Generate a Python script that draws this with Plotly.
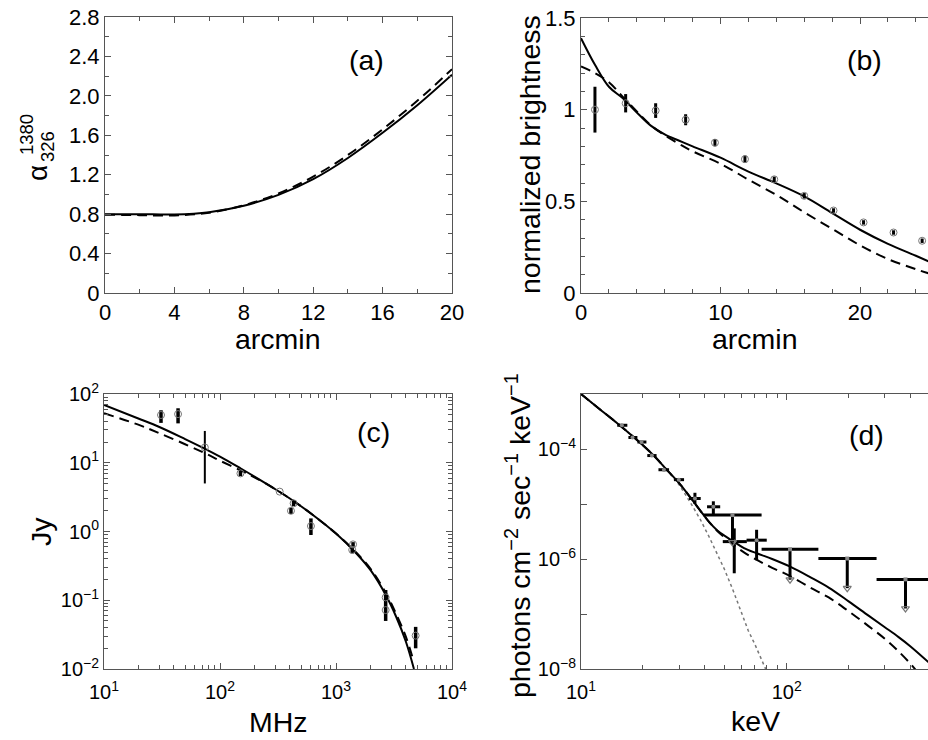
import plotly.graph_objects as go

W, H = 928, 740
FONT = "Liberation Sans, Arial, sans-serif"
AX = "#555555"

# ---------------- Panel (a) ----------------
a_x = [0, 2, 4, 6, 8, 10, 12, 14, 16, 18, 20]
a_solid = [0.80, 0.80, 0.797, 0.82, 0.885, 0.995, 1.155, 1.37, 1.625, 1.905, 2.215]
a_dashed = [0.795, 0.79, 0.787, 0.815, 0.89, 1.01, 1.18, 1.40, 1.66, 1.95, 2.27]

# ---------------- Panel (b) ----------------
b_x = [1.0, 3.2, 5.35, 7.5, 9.6, 11.75, 13.85, 16.0, 18.1, 20.25, 22.4, 24.45]
b_y = [1.0, 1.035, 0.995, 0.945, 0.82, 0.73, 0.62, 0.53, 0.45, 0.385, 0.33, 0.285]
b_err = [0.125, 0.05, 0.04, 0.03, 0.02, 0.02, 0.015, 0.015, 0.012, 0.012, 0.012, 0.012]
b_model_x = [0, 1, 2, 3, 4, 5, 6, 7, 8, 10, 12, 14, 16, 18, 20, 22, 24, 25]
b_solid = [1.39, 1.245, 1.125, 1.062, 0.985, 0.913, 0.865, 0.832, 0.80, 0.738, 0.662, 0.598, 0.527, 0.436, 0.345, 0.268, 0.203, 0.17]
b_dashed = [1.236, 1.20, 1.15, 1.07, 0.99, 0.915, 0.86, 0.815, 0.773, 0.705, 0.618, 0.535, 0.44, 0.35, 0.26, 0.185, 0.13, 0.105]

# ---------------- Panel (c) ----------------
c_freq = [31, 43.5, 74, 150, 327, 409, 431, 608, 1403, 1380, 2680, 2680, 4860]
c_flux = [49.5, 51, 16.7, 7.0, 3.8, 2.0, 2.57, 1.2, 0.65, 0.54, 0.11, 0.072, 0.0306]
c_flux_lo = [38, 37.4, 5.0, 6.4, 3.8, 1.8, 2.35, 0.89, 0.6, 0.48, 0.05, 0.072, 0.020]
c_flux_hi = [58, 62, 29, 7.7, 3.8, 2.2, 2.85, 1.55, 0.7, 0.6, 0.141, 0.072, 0.041]
c_thick = [True, True, False, True, True, True, True, True, True, True, True, True, True]
c_model_f = [10, 20, 30, 50, 74, 100, 150, 200, 300, 400, 600, 1000, 1500, 2000, 2700, 3300, 4000, 4700]
c_solid = [69.2, 43.7, 33.1, 22.1, 16.0, 12.3, 8.32, 6.24, 4.12, 3.02, 1.86, 0.933, 0.479, 0.269, 0.117, 0.0575, 0.0251, 0.0100]
c_dash_f = [10, 20, 30, 50, 74, 100, 150, 200, 300, 400, 600, 1000, 1500, 2000, 2700, 3300, 4000, 4600]
c_dashed = [52.5, 35.5, 26.9, 18.6, 13.8, 10.7, 7.76, 6.10, 4.12, 3.02, 1.86, 0.933, 0.490, 0.282, 0.126, 0.0631, 0.0295, 0.0141]

# ---------------- Panel (d) ----------------
d_E = [15.8, 17.8, 19.7, 22.1, 25.3, 29.9, 35.8, 44.0, 55.6, 71.4]
d_F = [2.7e-4, 1.62e-4, 1.34e-4, 7.6e-5, 4.2e-5, 2.77e-5, 1.26e-5, 8.9e-6, 2.07e-6, 2.2e-6]
d_E_lo = [15.0, 17.0, 18.8, 21.0, 23.8, 28.3, 33.5, 41.0, 48.9, 63.8]
d_E_hi = [16.8, 18.8, 20.8, 23.3, 26.8, 31.7, 38.2, 47.5, 64.0, 80.0]
d_F_lo = [2.6e-4, 1.56e-4, 1.28e-4, 7.2e-5, 3.95e-5, 2.6e-5, 1.0e-5, 6.5e-6, 5.5e-7, 9.5e-7]
d_F_hi = [2.8e-4, 1.68e-4, 1.40e-4, 8.0e-5, 4.45e-5, 2.95e-5, 1.6e-5, 1.12e-5, 3.6e-6, 3.4e-6]
ul_E = [54.5, 103.8, 197.0, 378.0]
ul_F = [6.3e-6, 1.5e-6, 1.02e-6, 4.26e-7]
ul_E_lo = [39.4, 75.5, 142.6, 273.5]
ul_E_hi = [75.5, 142.6, 273.5, 525.0]
ul_tip = [2.0e-6, 4.2e-7, 2.95e-7, 1.26e-7]
d_model_E = [10, 12, 15, 18, 20, 23, 26, 30, 34, 38, 42, 46, 50, 55, 62, 72, 85, 104, 130, 160, 200, 250, 300, 350, 400, 490]
d_solid = [1.0e-3, 5.75e-4, 2.95e-4, 1.66e-4, 1.17e-4, 7.08e-5, 4.27e-5, 2.40e-5, 1.32e-5, 7.59e-6, 4.68e-6,
           3.31e-6, 2.63e-6, 2.09e-6, 1.58e-6, 1.26e-6, 1.00e-6, 7.24e-7, 4.68e-7, 3.02e-7, 1.70e-7, 9.33e-8,
           5.75e-8, 3.80e-8, 2.57e-8, 1.32e-8]
d_dash_E = [10, 12, 15, 18, 20, 23, 26, 30, 34, 38, 42, 46, 50, 55, 62, 72, 85, 104, 130, 160, 200, 250, 300, 350, 410, 430]
d_dashed = [1.0e-3, 5.75e-4, 2.95e-4, 1.66e-4, 1.17e-4, 7.08e-5, 4.27e-5, 2.40e-5, 1.32e-5, 7.59e-6, 4.68e-6,
            3.24e-6, 2.45e-6, 1.82e-6, 1.32e-6, 9.55e-7, 6.92e-7, 4.90e-7, 3.02e-7, 2.00e-7, 1.12e-7, 6.03e-8,
            3.55e-8, 2.09e-8, 1.12e-8, 8.9e-9]
d_dot_E = [10, 12, 15, 18, 20, 23, 26, 30, 34, 38, 42, 46, 50, 55, 60, 65, 70, 75, 79, 82]
d_dotted = [1.0e-3, 5.75e-4, 2.95e-4, 1.66e-4, 1.17e-4, 7.08e-5, 4.27e-5, 2.24e-5, 1.07e-5, 5.25e-6, 2.51e-6,
            1.20e-6, 6.31e-7, 2.63e-7, 1.12e-7, 5.01e-8, 2.82e-8, 1.51e-8, 1.0e-8, 6.3e-9]


def diff(a, b):
    return [x - y for x, y in zip(a, b)]


fig = go.Figure()
SOLID = dict(color="black", width=2)
DASH = dict(color="black", width=2, dash="10px,6px")

# (a)
fig.add_trace(go.Scatter(x=a_x, y=a_dashed, mode="lines", line=dict(DASH, shape="spline"), xaxis="x", yaxis="y"))
fig.add_trace(go.Scatter(x=a_x, y=a_solid, mode="lines", line=dict(SOLID, shape="spline"), xaxis="x", yaxis="y"))

# (b)
fig.add_trace(go.Scatter(x=b_model_x, y=b_dashed, mode="lines", line=dict(DASH, shape="spline"), xaxis="x2", yaxis="y2"))
fig.add_trace(go.Scatter(x=b_model_x, y=b_solid, mode="lines", line=dict(SOLID, shape="spline"), xaxis="x2", yaxis="y2"))
fig.add_trace(go.Scatter(x=b_x, y=b_y, mode="markers",
                         marker=dict(symbol="circle-open", size=7, color="#777", line=dict(width=1)),
                         error_y=dict(type="data", array=b_err, thickness=3, width=0, color="black"),
                         xaxis="x2", yaxis="y2"))

# (c)
fig.add_trace(go.Scatter(x=c_dash_f, y=c_dashed, mode="lines", line=dict(DASH, shape="spline"), xaxis="x3", yaxis="y3"))
fig.add_trace(go.Scatter(x=c_model_f, y=c_solid, mode="lines", line=dict(SOLID, shape="spline"), xaxis="x3", yaxis="y3"))
for thick, wdt in ((True, 3.5), (False, 2)):
    idx = [i for i, t in enumerate(c_thick) if t == thick]
    fig.add_trace(go.Scatter(
        x=[c_freq[i] for i in idx], y=[c_flux[i] for i in idx], mode="markers",
        marker=dict(symbol="circle-open", size=7, color="#777", line=dict(width=1)),
        error_y=dict(type="data", symmetric=False,
                     array=[c_flux_hi[i] - c_flux[i] for i in idx],
                     arrayminus=[c_flux[i] - c_flux_lo[i] for i in idx],
                     thickness=wdt, width=0, color="black"),
        xaxis="x3", yaxis="y3"))

# (d)
fig.add_trace(go.Scatter(x=d_dot_E, y=d_dotted, mode="lines", line=dict(color="#777", width=1.5, dash="dot"), xaxis="x4", yaxis="y4"))
fig.add_trace(go.Scatter(x=d_dash_E, y=d_dashed, mode="lines", line=dict(DASH, shape="spline"), xaxis="x4", yaxis="y4"))
fig.add_trace(go.Scatter(x=d_model_E, y=d_solid, mode="lines", line=dict(SOLID, shape="spline"), xaxis="x4", yaxis="y4"))
fig.add_trace(go.Scatter(
    x=d_E, y=d_F, mode="markers",
    marker=dict(symbol="circle", size=4, color="#888"),
    error_x=dict(type="data", symmetric=False, array=diff(d_E_hi, d_E), arrayminus=diff(d_E, d_E_lo),
                 thickness=3, width=0, color="black"),
    error_y=dict(type="data", symmetric=False, array=diff(d_F_hi, d_F), arrayminus=diff(d_F, d_F_lo),
                 thickness=3, width=0, color="black"),
    xaxis="x4", yaxis="y4"))
fig.add_trace(go.Scatter(
    x=ul_E, y=ul_F, mode="markers",
    marker=dict(symbol="square", size=4, color="#888"),
    error_x=dict(type="data", symmetric=False, array=diff(ul_E_hi, ul_E), arrayminus=diff(ul_E, ul_E_lo),
                 thickness=3, width=0, color="black"),
    error_y=dict(type="data", symmetric=False, array=[0] * len(ul_F), arrayminus=diff(ul_F, ul_tip),
                 thickness=3, width=0, color="black"),
    xaxis="x4", yaxis="y4"))
fig.add_trace(go.Scatter(x=ul_E, y=ul_tip, mode="markers",
                         marker=dict(symbol="triangle-down-open", size=7, color="#777", line=dict(width=1.2)),
                         xaxis="x4", yaxis="y4"))


def px(x):
    return x / W


def py(y):
    return 1 - y / H


def base_axis(**kw):
    d = dict(showline=True, linecolor=AX, linewidth=1, ticks="inside", ticklen=6, tickcolor=AX,
             tickwidth=1, showgrid=False, zeroline=False, automargin=False,
             tickfont=dict(size=22, color="black", family=FONT))
    d.update(kw)
    return d


def minor(**kw):
    d = dict(ticks="inside", ticklen=4, tickcolor=AX, tickwidth=1, showgrid=False)
    d.update(kw)
    return d


log_minor = lambda lo, hi: [k * 10 ** e for e in range(lo, hi) for k in range(2, 10)]
LOGFONT = dict(size=20, color="black", family=FONT)

fig.update_layout(
    width=W, height=H, margin=dict(l=0, r=0, t=0, b=0, autoexpand=False),
    paper_bgcolor="white", plot_bgcolor="white", showlegend=False,
    font=dict(family=FONT, color="black"),
    # (a)
    xaxis=base_axis(domain=[px(105), px(452)], range=[0, 20], anchor="y", mirror="ticks",
                    tickmode="array", tickvals=[0, 4, 8, 12, 16, 20],
                    minor=minor(tickvals=[2, 6, 10, 14, 18])),
    yaxis=base_axis(domain=[py(293), py(17)], range=[0, 2.8], anchor="x", mirror="ticks",
                    tickmode="array", tickvals=[0, 0.4, 0.8, 1.2, 1.6, 2.0, 2.4, 2.8],
                    ticktext=["0", "0.4", "0.8", "1.2", "1.6", "2.0", "2.4", "2.8"],
                    minor=minor(tickvals=[0.2, 0.6, 1.0, 1.4, 1.8, 2.2, 2.6])),
    # (b)
    xaxis2=base_axis(domain=[px(581), 1.0], range=[0, 24.87], anchor="y2", mirror="ticks",
                     tickmode="array", tickvals=[0, 10, 20],
                     minor=minor(tickvals=[2, 4, 6, 8, 12, 14, 16, 18, 22, 24])),
    yaxis2=base_axis(domain=[py(293), py(18)], range=[0, 1.5], anchor="x2", mirror=False,
                     tickmode="array", tickvals=[0, 0.5, 1, 1.5], ticktext=["0", "0.5", "1", "1.5"],
                     minor=minor(tickvals=[0.1, 0.2, 0.3, 0.4, 0.6, 0.7, 0.8, 0.9, 1.1, 1.2, 1.3, 1.4])),
    # (c)
    xaxis3=base_axis(domain=[px(104), px(452)], type="log", range=[1, 4], anchor="y3", mirror="ticks",
                     tickmode="array", tickvals=[10, 100, 1000, 10000],
                     ticktext=["10<sup>1</sup>", "10<sup>2</sup>", "10<sup>3</sup>", "10<sup>4</sup>"],
                     tickfont=LOGFONT, ticklabelstandoff=5, minor=minor(tickvals=log_minor(1, 4))),
    yaxis3=base_axis(domain=[py(669), py(394)], type="log", range=[-2, 2], anchor="x3", mirror="ticks",
                     tickmode="array", tickvals=[0.01, 0.1, 1, 10, 100],
                     ticktext=["10<sup>−2</sup>", "10<sup>−1</sup>", "10<sup>0</sup>", "10<sup>1</sup>", "10<sup>2</sup>"],
                     tickfont=LOGFONT, minor=minor(tickvals=log_minor(-2, 2))),
    # (d)
    xaxis4=base_axis(domain=[px(581), 1.0], type="log", range=[1, 2.687], anchor="y4", mirror="ticks",
                     tickmode="array", tickvals=[10, 100], ticktext=["10<sup>1</sup>", "10<sup>2</sup>"],
                     tickfont=LOGFONT, ticklabelstandoff=5, minor=minor(tickvals=log_minor(1, 3))),
    yaxis4=base_axis(domain=[py(669), py(394)], type="log", range=[-8, -3], anchor="x4", mirror=False,
                     tickmode="array", tickvals=[1e-8, 1e-7, 1e-6, 1e-5, 1e-4, 1e-3],
                     ticktext=["10<sup>−8</sup>", "", "10<sup>−6</sup>", "", "10<sup>−4</sup>", ""],
                     tickfont=LOGFONT),
)


def ann(text, x, y, angle=0, size=28.5):
    fig.add_annotation(text=text, x=px(x), y=py(y), xref="paper", yref="paper",
                       xanchor="center", yanchor="middle", showarrow=False, textangle=angle,
                       font=dict(size=size, color="black", family=FONT))


ann("(a)", 366, 60)
ann("(b)", 864, 60)
ann("(c)", 373, 432)
ann("(d)", 866, 435)
ann("arcmin", 278, 339)
ann("arcmin", 755, 339)
ann("MHz", 278, 722)
ann("keV", 755, 721)
ann("normalized brightness", 530, 155, angle=-90)
ann("Jy", 41, 532, angle=-90)
ann("photons cm<sup>−2</sup> sec<sup>−1</sup> keV<sup>−1</sup>", 518, 536, angle=-90)
ann("α", 38, 173, angle=-90, size=28)
ann("1380", 26, 135, angle=-90, size=18.5)
ann("326", 48, 147, angle=-90, size=18.5)

fig.write_html("out.html", config={"displayModeBar": False},
               post_script="document.body.style.margin='0px';document.body.style.overflow='hidden';")
